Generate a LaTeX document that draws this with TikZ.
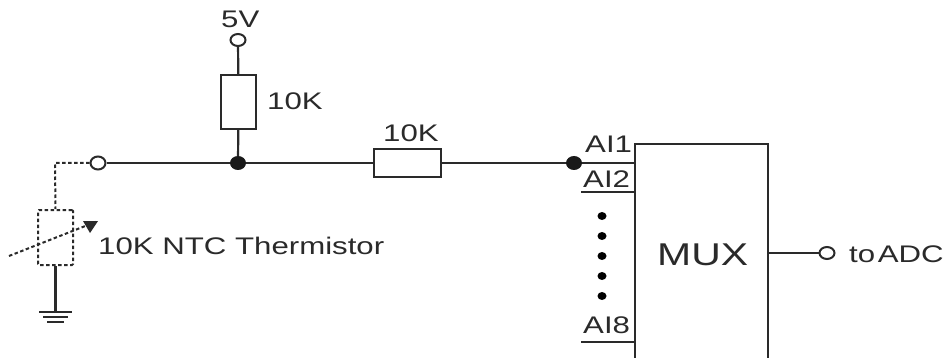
\documentclass[tikz,border=0pt]{standalone}
\usepackage{fontspec}
\setmainfont[FakeStretch=1.3]{Liberation Sans}
\usetikzlibrary{arrows.meta,shapes.geometric}
\definecolor{ink}{HTML}{2A2A2A}
\tikzset{
  wire/.style={draw=ink,line width=2.2pt},
  thin wire/.style={draw=ink,line width=1.8pt},
  res/.style={draw=ink,line width=2.2pt,fill=white,inner sep=0pt,minimum width=#1},
  joint/.style={ellipse,fill=black!90,draw=none,inner sep=0pt,minimum width=16pt,minimum height=14pt},
  term/.style={ellipse,draw=ink,line width=2pt,fill=white,inner sep=0pt,minimum width=14pt,minimum height=11pt},
  lab/.style={text=ink,inner sep=0pt,anchor=base west,font=\fontsize{24}{24}\selectfont},
  dotsym/.style={ellipse,fill=black,inner sep=0pt,minimum width=9pt,minimum height=8pt},
  dash line/.style={draw=ink,line width=2pt,dash pattern=on 3.5pt off 2.5pt}
}
\begin{document}
\begin{tikzpicture}[x=1pt,y=-1pt]
\useasboundingbox (0,0) rectangle (947,358);
% nodes
\node[term,minimum width=15pt,minimum height=12pt] (t5) at (238,40) {};
\node[res=35pt,minimum height=54pt] (r1) at (238.5,102) {};
\node[joint] (j1) at (238,163) {};
\node[res=67pt,minimum height=28pt] (r2) at (407.5,163) {};
\node[joint] (j2) at (574,163) {};
\node[term,minimum width=15pt,minimum height=13pt] (t1) at (98,163) {};
\coordinate (corner) at (55,163);
\node[draw=ink,line width=2pt,dash pattern=on 3.5pt off 2.5pt,rounded corners=1pt,inner sep=0pt,minimum width=35pt,minimum height=55pt] (th) at (55.5,237.5) {};
\coordinate (gnd) at (55.5,312);
\coordinate (g1a) at (39,312); \coordinate (g1b) at (72,312);
\coordinate (g2a) at (43,317); \coordinate (g2b) at (68,317);
\coordinate (g3a) at (47,322); \coordinate (g3b) at (64,322);
\coordinate (as) at (9,256); \coordinate (ae) at (98,221);
% MUX
\coordinate (mbl) at (635,358); \coordinate (mtl) at (635,144);
\coordinate (mtr) at (768,144); \coordinate (mbr) at (768,358);
\coordinate (mi1) at (635,163);
\coordinate (i2a) at (581,192); \coordinate (i2b) at (635,192);
\coordinate (i8a) at (581,342); \coordinate (i8b) at (635,342);
\coordinate (mo) at (768,253);
\node[term,minimum width=15pt,minimum height=12pt] (t2) at (827,253) {};
% wires
\draw[wire] (t5) -- (r1);
\draw[wire] (r1) -- (j1);
\draw[wire] (t1) -- (j1) -- (r2) -- (j2) -- (mi1);
\draw[wire] (th.south) -- (gnd);
\draw[wire] (g1a) -- (g1b);
\draw[wire] (g2a) -- (g2b);
\draw[wire] (g3a) -- (g3b);
\draw[dash line] (t1) -- (corner) -- (th.north);
\draw[dash line] (as) -- (ae);
\draw[draw=none,fill=ink] (ae) -- (83,221) -- (90,233) -- cycle;
\draw[wire] (mbl) -- (mtl) -- (mtr) -- (mbr);
\draw[wire] (i2a) -- (i2b);
\draw[wire] (i8a) -- (i8b);
\draw[thin wire] (mo) -- (t2);
\foreach \y/\n in {216/a,236/b,256/c,276/d,296/e} \node[dotsym] (d\n) at (602,\y) {};
% labels
\node[lab] (l5) at (221,28) {5V};
\node[lab] (l10a) at (267,110) {10K};
\node[lab] (l10b) at (383,142) {10K};
\node[lab] (lth) at (98,254) {10K NTC Thermistor};
\node[lab] (la1) at (585,153) {AI1};
\node[lab] (la2) at (583,187) {AI2};
\node[lab] (la8) at (583,333) {AI8};
\node[lab,font=\fontsize{31.5}{31.5}\selectfont] (lm) at (657,265) {MUX};
\node[lab] (ladc) at (849,262) {to\hspace{-6pt} ADC};
\end{tikzpicture}
\end{document}
